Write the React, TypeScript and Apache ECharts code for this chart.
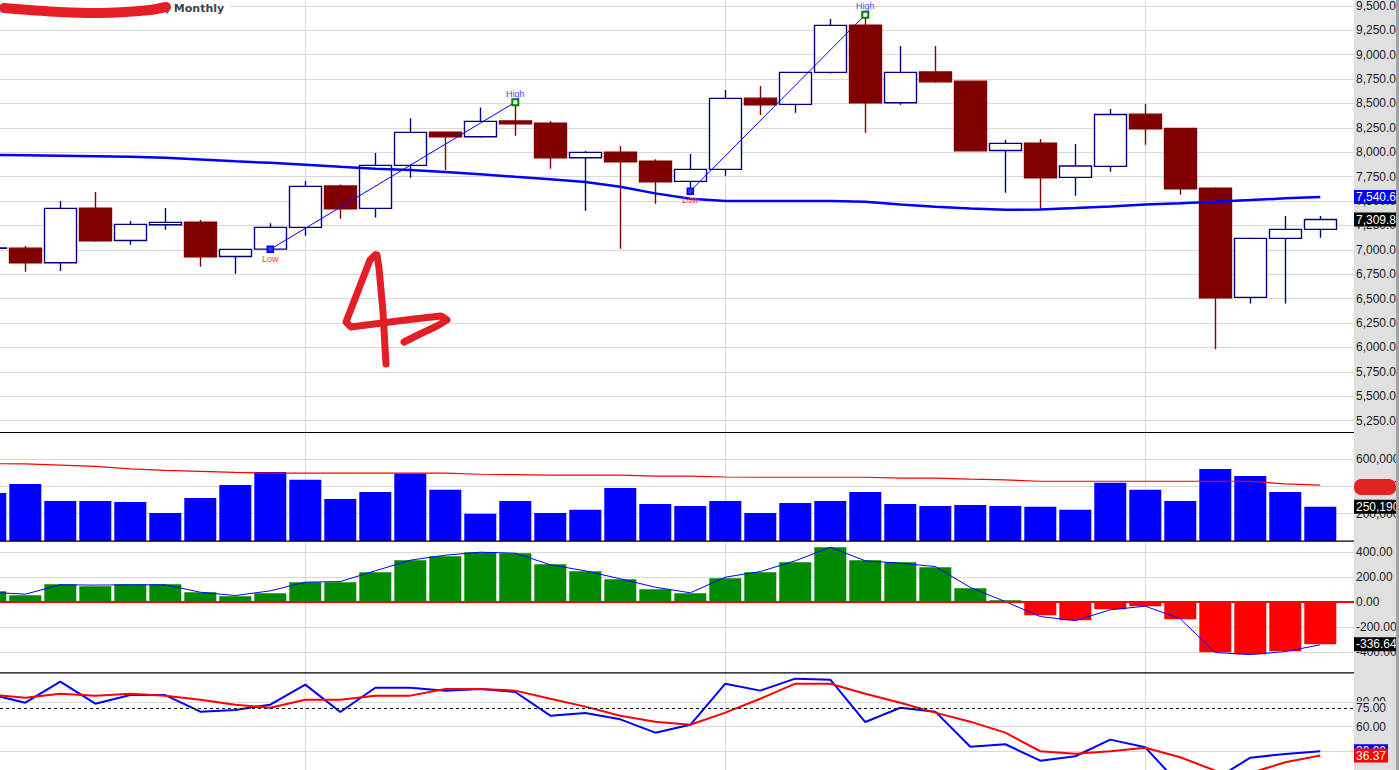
import React, { useEffect, useRef } from "react";
import * as echarts from "echarts";

// ---- Data (index 0 is the partially visible first month) ----
const opens = [7015, 7017, 6867, 7427, 7096, 7256, 7284, 6932, 7007, 7230, 7653, 7424, 7865, 8206, 8158, 8319, 8298, 7943, 8001, 7909, 7701, 7824, 8554, 8490, 8818, 9302, 8506, 8821, 8728, 8018, 8093, 7742, 7855, 8390, 8244, 7632, 6512, 7117, 7209];
const closes = [7020, 6867, 7424, 7092, 7260, 7281, 6928, 7004, 7230, 7650, 7420, 7865, 8203, 8158, 8316, 8291, 7943, 7998, 7902, 7697, 7824, 8551, 8486, 8818, 9299, 8506, 8818, 8721, 8014, 8090, 7738, 7858, 8387, 8240, 7625, 6508, 7117, 7209, 7309.8];
const lows = [7010, 6775, 6782, 7082, 7051, 7205, 6826, 6754, 7005, 7143, 7318, 7332, 7738, 7817, 8148, 8168, 7830, 7400, 7010, 7471, 7601, 7758, 8380, 8404, 8807, 8199, 8486, 8711, 8010, 7584, 7414, 7553, 7799, 8076, 7564, 5980, 6451, 6451, 7123];
const highs = [7025, 7038, 7499, 7591, 7294, 7427, 7304, 7010, 7271, 7704, 7670, 7991, 8349, 8210, 8459, 8513, 8319, 8011, 8063, 7929, 7981, 8636, 8677, 8825, 9364, 9408, 9087, 9087, 8735, 8124, 8134, 8083, 8442, 8493, 8250, 7640, 7125, 7345, 7345];
const priceMA = [7972, 7968, 7963, 7958, 7953, 7943, 7926, 7906, 7891, 7871, 7850, 7830, 7817, 7796, 7773, 7748, 7724, 7694, 7646, 7578, 7523, 7500, 7500, 7500, 7499, 7492, 7465, 7441, 7424, 7410, 7412, 7427, 7443, 7465, 7478, 7492, 7509, 7527, 7540.6];
const volumes = [352, 417, 293, 293, 286, 206, 315, 410, 505, 447, 308, 359, 493, 374, 199, 293, 206, 228, 388, 271, 257, 293, 206, 279, 293, 359, 271, 257, 264, 257, 250, 228, 425, 374, 293, 527, 476, 359, 250.19];
const volumeMA = [565, 563, 554, 545, 527, 516, 509, 501, 496, 496, 496, 496, 496, 496, 488, 485, 481, 481, 481, 474, 474, 468, 466, 466, 466, 466, 459, 459, 452, 447, 437, 437, 437, 437, 437, 437, 437, 417, 408];
const macdHist = [88, 56, 144, 128, 144, 144, 80, 48, 72, 160, 160, 240, 336, 368, 400, 392, 304, 248, 184, 104, 72, 192, 240, 320, 440, 336, 320, 280, 112, 16, -104, -144, -56, -32, -136, -400, -416, -392, -336.64];
const macdLine = [80, 64, 139, 137, 139, 139, 80, 53, 91, 160, 165, 251, 336, 376, 400, 392, 299, 251, 187, 120, 75, 200, 245, 331, 440, 331, 312, 285, 118, 5, -115, -147, -61, -32, -133, -403, -419, -395, -341];
const rsiLine = [86.5, 79.6, 96.8, 78.8, 85.9, 85.9, 72.3, 73.7, 78.0, 94.4, 72.0, 91.9, 91.9, 89.5, 90.9, 88.4, 69.0, 71.2, 66.0, 55.1, 61.5, 95.2, 89.5, 99.3, 98.5, 63.8, 75.5, 72.3, 43.6, 45.6, 32.2, 35.8, 49.4, 43.1, 12, 17, 34.6, 37.7, 39.9];
const rsiSignal = [86.1, 83.7, 87.0, 85.4, 87.0, 85.4, 82.1, 78.0, 75.5, 82.1, 82.1, 85.4, 85.4, 90.9, 90.9, 89.5, 82.9, 76.4, 69.0, 64.1, 61.6, 71.5, 82.9, 95.2, 95.2, 87.0, 79.6, 71.5, 64.1, 55.1, 39.9, 37.9, 39.9, 42.8, 35.0, 24.0, 22.0, 30.9, 36.37];
const lowPivots = [8, 20];
const highPivots = [15, 25];
const rsiLevel = 75;
const titleText = ") Monthly";

// ---- layout / style constants ----
const X0 = 3;
const X_MIN = 3.277;
const X_MAX = 41.963;
const GRID_COLOR = "#d9d9d9";
const AXIS_BG = "#e0e0e0";
const AXIS_FONT = "Liberation Sans";
const PLOT_W = 1354;

function fmtNum(v: number, d: number): string {
  const neg = v < 0;
  const s = Math.abs(v).toFixed(d);
  const parts = s.split(".");
  const intPart = parts[0].replace(/\B(?=(\d{3})+(?!\d))/g, ",");
  return (neg ? "-" : "") + intPart + (parts[1] ? "." + parts[1] : "");
}

const xy = (arr: number[]) => arr.map((v, i) => [i + X0, v]);

function lastBox(value: number, text: string, bg: string, fg = "#ffffff") {
  return {
    yAxis: value,
    lineStyle: { color: "rgba(0,0,0,0)", width: 0 },
    label: {
      show: true,
      position: "end",
      distance: 0,
      formatter: text,
      color: fg,
      opacity: 1,
      backgroundColor: bg,
      padding: [1, 2, 0, 2],
      fontSize: 12,
      lineHeight: 13,
      fontFamily: AXIS_FONT,
    },
  };
}

function xAxisCfg(gi: number) {
  return {
    type: "value",
    gridIndex: gi,
    min: X_MIN,
    max: X_MAX,
    minInterval: 12,
    maxInterval: 12,
    axisLine: { show: false },
    axisTick: { show: false },
    axisLabel: { show: false },
    splitLine: { show: true, showMinLine: false, showMaxLine: false, lineStyle: { color: GRID_COLOR, width: 1 } },
  };
}

function yAxisCfg(gi: number, min: number, max: number, step: number, formatter: (v: number) => string) {
  return {
    type: "value",
    gridIndex: gi,
    position: "right",
    min,
    max,
    minInterval: step,
    maxInterval: step,
    axisLine: { show: false },
    axisTick: { show: false },
    axisLabel: {
      show: true,
      margin: 2,
      fontSize: 12,
      fontFamily: AXIS_FONT,
      color: "#1a1a1a",
      formatter,
      showMinLabel: false,
      showMaxLabel: false,
    },
    splitLine: { show: true, showMinLine: false, showMaxLine: false, lineStyle: { color: GRID_COLOR, width: 1 } },
  };
}

function pivot(idx: number, kind: "low" | "high") {
  const isLow = kind === "low";
  return {
    value: [idx + X0, isLow ? lows[idx] : highs[idx]],
    symbol: "rect",
    symbolSize: 6,
    itemStyle: isLow
      ? { color: "#3030ff", borderColor: "#0000ff", borderWidth: 1.5 }
      : { color: "#ffffff", borderColor: "#008000", borderWidth: 2 },
    label: {
      show: true,
      position: isLow ? "bottom" : "top",
      distance: isLow ? 1 : 0,
      formatter: isLow ? "Low" : "High",
      color: isLow ? "#ff3c3c" : "#4b4bff",
      fontSize: 9,
      fontFamily: AXIS_FONT,
    },
  };
}

export default function App() {
  const ref = useRef<HTMLDivElement>(null);

  useEffect(() => {
    if (!ref.current) return;
    const chart = echarts.init(ref.current, undefined, { renderer: "svg" });
    const n = closes.length - 1;

    const grids = [
      { left: 0, top: 0, width: PLOT_W, height: 432.5 },
      { left: 0, top: 432.5, width: PLOT_W, height: 108.6 },
      { left: 0, top: 541.5, width: PLOT_W, height: 135.7 },
      { left: 0, top: 677.8, width: PLOT_W, height: 92.2 },
    ].map((g) => ({ ...g, show: false, containLabel: false, outerBoundsMode: "none" }));

    const option: any = {
      animation: false,
      backgroundColor: "#ffffff",
      grid: [
        ...grids,
        { left: PLOT_W, top: 0, width: 42, height: 770, show: true, backgroundColor: AXIS_BG, borderWidth: 0, outerBoundsMode: "none" },
      ],
      xAxis: [xAxisCfg(0), xAxisCfg(1), xAxisCfg(2), xAxisCfg(3), { type: "value", gridIndex: 4, show: false }],
      yAxis: [
        yAxisCfg(0, 5128, 9559.4, 250, (v) => fmtNum(v, 2)),
        yAxisCfg(1, 0, 792.7, 200, (v) => fmtNum(v * 1000, 0)),
        yAxisCfg(2, -600, 485.6, 200, (v) => fmtNum(v, 2)),
        yAxisCfg(3, 24.55, 100, 20, (v) => fmtNum(v, 2)),
        { type: "value", gridIndex: 4, show: false },
      ],
      series: [
        {
          type: "candlestick",
          name: "Price",
          xAxisIndex: 0,
          yAxisIndex: 0,
          barWidth: 32,
          z: 2,
          data: opens.map((o, i) => [i + X0, o, closes[i], lows[i], highs[i]]),
          itemStyle: {
            color: "#ffffff",
            color0: "#800000",
            borderColor: "#000080",
            borderColor0: "#800000",
            borderWidth: 1.4,
          },
          markLine: {
            silent: true,
            symbol: "none",
            data: [lastBox(closes[n], fmtNum(closes[n], 2), "#000000")],
          },
        },
        {
          type: "line",
          name: "MA",
          xAxisIndex: 0,
          yAxisIndex: 0,
          z: 3,
          symbol: "none",
          data: xy(priceMA),
          lineStyle: { color: "#0000ff", width: 2.5 },
          markLine: {
            silent: true,
            symbol: "none",
            data: [lastBox(priceMA[n], fmtNum(priceMA[n], 2), "#0000ff")],
          },
        },
        {
          type: "line",
          name: "ZigZag1",
          xAxisIndex: 0,
          yAxisIndex: 0,
          z: 4,
          data: [pivot(lowPivots[0], "low"), pivot(highPivots[0], "high")],
          lineStyle: { color: "#0000ff", width: 1 },
        },
        {
          type: "line",
          name: "ZigZag2",
          xAxisIndex: 0,
          yAxisIndex: 0,
          z: 4,
          data: [pivot(lowPivots[1], "low"), pivot(highPivots[1], "high")],
          lineStyle: { color: "#0000ff", width: 1 },
        },
        {
          type: "bar",
          name: "Volume",
          xAxisIndex: 1,
          yAxisIndex: 1,
          barWidth: 32,
          z: 2,
          data: xy(volumes),
          itemStyle: { color: "#0000ff" },
          markLine: {
            silent: true,
            symbol: "none",
            data: [lastBox(volumes[n], fmtNum(volumes[n] * 1000, 0), "#000000")],
          },
        },
        {
          type: "line",
          name: "VolMA",
          xAxisIndex: 1,
          yAxisIndex: 1,
          z: 3,
          symbol: "none",
          data: xy(volumeMA),
          lineStyle: { color: "#ff0000", width: 1.2 },
        },
        {
          type: "bar",
          name: "Hist",
          xAxisIndex: 2,
          yAxisIndex: 2,
          barWidth: 32,
          z: 2,
          data: xy(macdHist),
          itemStyle: { color: (p: any) => (p.value[1] >= 0 ? "#008a00" : "#ff0000") },
          markLine: {
            silent: true,
            symbol: "none",
            data: [
              { yAxis: 0, lineStyle: { color: "#ff0000", width: 2, type: "solid" }, label: { show: false } },
              lastBox(macdHist[n], fmtNum(macdHist[n], 2), "#000000"),
            ],
          },
        },
        {
          type: "line",
          name: "MACD",
          xAxisIndex: 2,
          yAxisIndex: 2,
          z: 3,
          symbol: "none",
          data: xy(macdLine),
          lineStyle: { color: "#0000ff", width: 1 },
        },
        {
          type: "line",
          name: "RSI",
          xAxisIndex: 3,
          yAxisIndex: 3,
          z: 3,
          symbol: "none",
          data: xy(rsiLine),
          lineStyle: { color: "#0000ff", width: 2 },
          markLine: {
            silent: true,
            symbol: "none",
            data: [
              {
                yAxis: rsiLevel,
                lineStyle: { color: "#000000", width: 1, type: [3, 3] },
                label: {
                  show: true,
                  position: "end",
                  distance: 0,
                  formatter: fmtNum(rsiLevel, 2),
                  color: "#1a1a1a",
                  backgroundColor: AXIS_BG,
                  padding: [1, 2, 0, 2],
                  fontSize: 12,
                  lineHeight: 13,
                  fontFamily: AXIS_FONT,
                },
              },
              lastBox(rsiLine[n], fmtNum(rsiLine[n], 2), "#0000ff"),
            ],
          },
        },
        {
          type: "line",
          name: "RSISignal",
          xAxisIndex: 3,
          yAxisIndex: 3,
          z: 4,
          symbol: "none",
          data: xy(rsiSignal),
          lineStyle: { color: "#ff0000", width: 2 },
          markLine: {
            silent: true,
            symbol: "none",
            data: [lastBox(rsiSignal[n], fmtNum(rsiSignal[n], 2), "#ff0000")],
          },
        },
      ],
      graphic: {
        elements: [
          { type: "rect", z: 50, shape: { x: 0, y: 0, width: 229, height: 15 }, style: { fill: "#ffffff" } },
          {
            type: "text",
            z: 51,
            x: 165,
            y: 8,
            style: { text: titleText, font: 'bold 11px "DejaVu Sans"', fill: "#39424f", verticalAlign: "middle" },
          },
          {
            type: "polyline",
            z: 52,
            shape: { points: [[4, 8], [30, 10], [60, 12], [95, 13], [125, 12], [150, 10], [166, 7]], smooth: 0.3 },
            style: { stroke: "#e31e24", lineWidth: 10, lineCap: "round", lineJoin: "round", fill: null },
          },
          {
            type: "polyline",
            z: 52,
            shape: {
              points: [[375, 255], [370, 260], [346, 322], [351, 327], [382, 323], [414, 319], [441, 316], [447, 320], [437, 326], [420, 334], [404, 342]],
            },
            style: { stroke: "#e31e24", lineWidth: 7, lineCap: "round", lineJoin: "round", fill: null },
          },
          {
            type: "polyline",
            z: 52,
            shape: { points: [[377, 255], [379, 268], [383, 312], [386, 364]] },
            style: { stroke: "#e31e24", lineWidth: 7, lineCap: "round", lineJoin: "round", fill: null },
          },
          { type: "line", z: 50, shape: { x1: 0, y1: 432.5, x2: PLOT_W, y2: 432.5 }, style: { stroke: "#000000", lineWidth: 1.2 } },
          { type: "line", z: 50, shape: { x1: 0, y1: 541.2, x2: PLOT_W, y2: 541.2 }, style: { stroke: "#000000", lineWidth: 1.2 } },
          { type: "line", z: 50, shape: { x1: 0, y1: 672.8, x2: PLOT_W, y2: 672.8 }, style: { stroke: "#000000", lineWidth: 1.2 } },
          { type: "rect", z: 60, shape: { x: 1354, y: 479, width: 42, height: 16, r: 7 }, style: { fill: "#e42222" } },
          { type: "rect", z: 60, shape: { x: 1396, y: 0, width: 3, height: 770 }, style: { fill: "#a3a3a3" } },
        ],
      },
    };

    chart.setOption(option);
    return () => chart.dispose();
  }, []);

  return (
    <div
      ref={ref}
      style={{ position: "fixed", left: 0, top: 0, width: 1399, height: 770, background: "#ffffff" }}
    />
  );
}
